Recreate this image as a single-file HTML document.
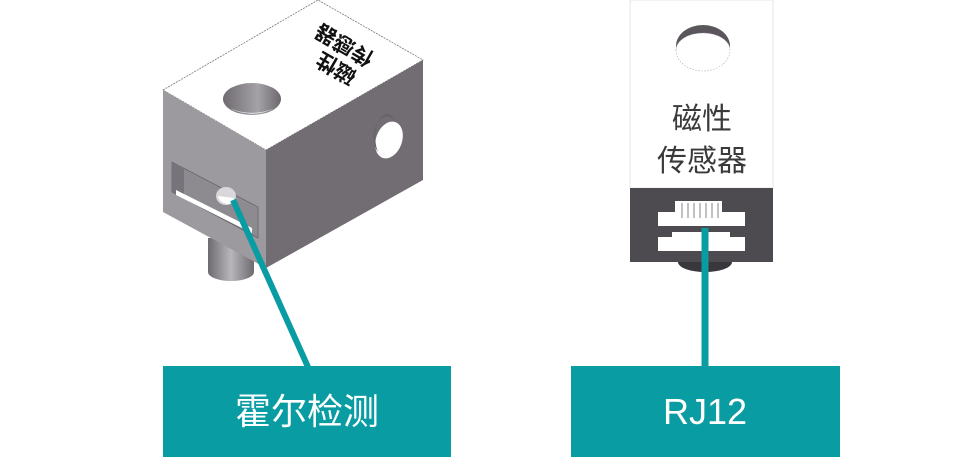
<!DOCTYPE html>
<html><head><meta charset="utf-8"><style>
html,body{margin:0;padding:0;background:#fff;width:961px;height:462px;overflow:hidden}
svg text{font-family:"Liberation Sans","Noto Sans CJK SC",sans-serif}
</style></head><body>
<svg width="961" height="462" viewBox="0 0 961 462" xmlns="http://www.w3.org/2000/svg">
<defs>
<linearGradient id="cyl" x1="0" x2="1"><stop offset="0" stop-color="#6e6a70"/><stop offset="0.5" stop-color="#b8b6ba"/><stop offset="1" stop-color="#6e6a70"/></linearGradient>
<linearGradient id="hole" x1="0" x2="1"><stop offset="0" stop-color="#6e6a70"/><stop offset="0.6" stop-color="#a5a2a8"/><stop offset="1" stop-color="#6b676d"/></linearGradient>
</defs>
<path d="M208,238 L208,272 A23,9 0 0 0 254,272 L254,238 Z" fill="url(#cyl)"/>
<polygon points="163,90 318,0 423,60 266,150" fill="#fff" stroke="#777" stroke-width="0.8" stroke-dasharray="2,1"/>
<polygon points="163,90 266,150 266,268 163,212" fill="#9c9a9e"/>
<polygon points="266,150 423,60 423,180 266,268" fill="#726c73"/>
<ellipse cx="252" cy="99" rx="29" ry="16" fill="url(#hole)"/>
<path d="M230,108 A29,16 0 0 0 274,108 A29,14 0 0 1 230,108Z" fill="#fff"/>
<ellipse cx="389" cy="140" rx="13" ry="19" transform="rotate(20 389 140)" fill="#fff"/>
<path d="M378,152 A13,19 0 0 1 396,122 A9,18 0 0 0 378,152Z" fill="#6a656c"/>
<polygon points="172,162 258,207 258,238 172,192" fill="#8d8b90" stroke="#555" stroke-width="0.6"/>
<polygon points="172,162 184,168 184,198 172,192" fill="#77737a"/>
<polygon points="176,190 252,228 252,233 176,195" fill="#fff"/>
<ellipse cx="226" cy="196" rx="10" ry="9" fill="#d8d7da"/>
<path d="M218,196 A10,9 0 0 0 234,202 L234,198Z" fill="#fff"/>
<g transform="translate(335,52) rotate(210)" fill="#111" font-size="21" font-weight="bold">
<text x="-30" y="-6">磁性</text>
<text x="-36" y="18">传感器</text>
</g>
<line x1="233" y1="200" x2="308" y2="367" stroke="#0a9ca3" stroke-width="6"/>
<rect x="163" y="366" width="288" height="91" fill="#0a9ca3"/>
<text x="307" y="424" text-anchor="middle" fill="#fff" font-size="36">霍尔检测</text>

<rect x="630" y="0" width="143" height="188" fill="#fff" stroke="#e6e6e6" stroke-width="1"/>
<ellipse cx="703" cy="46" rx="27" ry="21" fill="#5a565c"/>
<path d="M676,50 A27,17 0 0 1 730,50 A27,21 0 0 1 676,50Z" fill="#fff" stroke="#aaa" stroke-width="0.6" stroke-dasharray="1.5,1.5"/>
<text x="702" y="129" text-anchor="middle" fill="#3a3a3a" font-size="30">磁性</text>
<text x="702" y="171" text-anchor="middle" fill="#3a3a3a" font-size="30">传感器</text>
<ellipse cx="705" cy="262" rx="27" ry="10" fill="#3a373c"/>
<rect x="630" y="188" width="143" height="74" fill="#4d4b4f"/>
<path d="M675,201 L722,201 L722,212 L745,212 L745,226 L658,226 L658,212 L675,212 Z" fill="#fff"/>
<g stroke="#9a989c" stroke-width="1.2"><line x1="682" y1="203" x2="682" y2="218"/><line x1="688" y1="203" x2="688" y2="218"/><line x1="694" y1="203" x2="694" y2="218"/><line x1="700" y1="203" x2="700" y2="218"/><line x1="706" y1="203" x2="706" y2="218"/><line x1="712" y1="203" x2="712" y2="218"/><line x1="718" y1="203" x2="718" y2="218"/></g>
<path d="M672,232 L730,232 L730,237 L745,237 L745,251 L658,251 L658,237 L672,237 Z" fill="#fff"/>
<line x1="705" y1="228" x2="705" y2="367" stroke="#0a9ca3" stroke-width="7"/>
<rect x="571" y="366" width="269" height="91" fill="#0a9ca3"/>
<text x="705" y="424" text-anchor="middle" fill="#fff" font-size="36">RJ12</text>
</svg>
</body></html>
